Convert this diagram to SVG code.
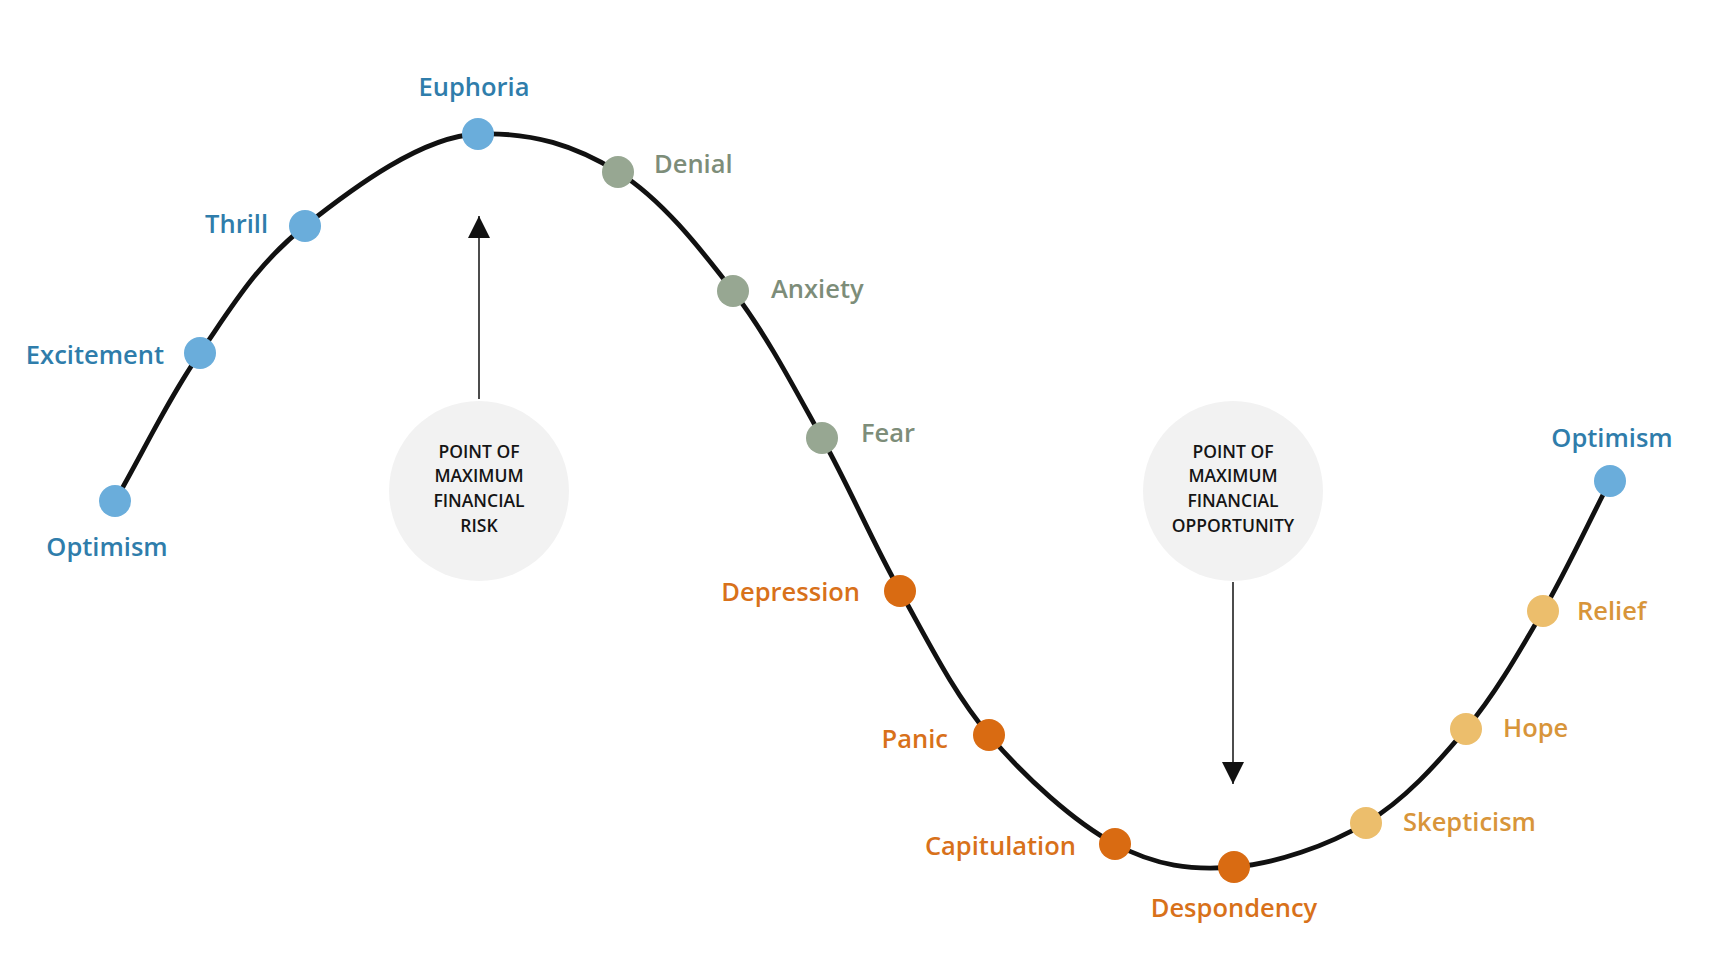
<svg xmlns="http://www.w3.org/2000/svg" width="1716" height="962" viewBox="0 0 1716 962">
<style>
.lbl{font-family:"Open Sans","Liberation Sans",sans-serif;font-weight:600;font-size:25.5px}
.blue{fill:#2f7dab}
.grey{fill:#7d8d79}
.orange{fill:#d8711a}
.yellow{fill:#d8953a}
.dblue{fill:#6aaddb}
.dgrey{fill:#97a792}
.dorange{fill:#d96b12}
.dyellow{fill:#ecbe6c}
.bubble{fill:#f2f2f2}
.btxt{font-family:"Open Sans","Liberation Sans",sans-serif;font-weight:600;font-size:17.5px;fill:#151515;text-anchor:middle}
.conn{stroke:#111;stroke-width:1.5;fill:none}
</style>
<defs>
<marker id="ah" viewBox="0 0 10 10" refX="10" refY="5" markerWidth="22" markerHeight="22" markerUnits="userSpaceOnUse" orient="auto">
<path d="M0,0 L10,5 L0,10 z" fill="#111"/>
</marker>
</defs>
<rect width="1716" height="962" fill="#ffffff"/>
<g id="curve">
<path d="M115,501 C143.3,451.7 168.3,398.8 200,353 C231.7,307.2 256,265 305,226 C354,187 423,136 478,134 C533,132 575.5,145.8 618,172 C660.5,198.2 699,246.7 733,291 C767,335.3 794.2,388 822,438 C849.8,488 872.2,541.5 900,591 C927.8,640.5 953.2,692.8 989,735 C1024.8,777.2 1074.2,822 1115,844 C1155.8,866 1192.2,870.5 1234,867 C1275.8,863.5 1327.3,846 1366,823 C1404.7,800 1436.5,764.3 1466,729 C1495.5,693.7 1519,652.3 1543,611 C1567,569.7 1587.7,524.3 1610,481" fill="none" stroke="#111" stroke-width="4.8"/>
</g>
<g id="risk">
<circle class="bubble" cx="479" cy="491" r="90"/>
<text class="btxt" x="479" y="458">POINT OF</text>
<text class="btxt" x="479" y="482">MAXIMUM</text>
<text class="btxt" x="479" y="507">FINANCIAL</text>
<text class="btxt" x="479" y="532">RISK</text>
</g>
<g id="opportunity">
<circle class="bubble" cx="1233" cy="491" r="90"/>
<text class="btxt" x="1233" y="458">POINT OF</text>
<text class="btxt" x="1233" y="482">MAXIMUM</text>
<text class="btxt" x="1233" y="507">FINANCIAL</text>
<text class="btxt" x="1233" y="532">OPPORTUNITY</text>
</g>
<g id="connectors">
<line class="conn" x1="479" y1="399" x2="479" y2="216" marker-end="url(#ah)"/>
<line class="conn" x1="1233" y1="582" x2="1233" y2="784" marker-end="url(#ah)"/>
</g>
<g id="optimism-start"><circle class="dblue" cx="115" cy="501" r="16"/><text class="lbl blue" x="107" y="556" text-anchor="middle">Optimism</text></g>
<g id="excitement"><circle class="dblue" cx="200" cy="353" r="16"/><text class="lbl blue" x="164" y="364" text-anchor="end">Excitement</text></g>
<g id="thrill"><circle class="dblue" cx="305" cy="226" r="16"/><text class="lbl blue" x="268" y="233" text-anchor="end">Thrill</text></g>
<g id="euphoria"><circle class="dblue" cx="478" cy="134" r="16"/><text class="lbl blue" x="474" y="96" text-anchor="middle">Euphoria</text></g>
<g id="denial"><circle class="dgrey" cx="618" cy="172" r="16"/><text class="lbl grey" x="654" y="173">Denial</text></g>
<g id="anxiety"><circle class="dgrey" cx="733" cy="291" r="16"/><text class="lbl grey" x="771" y="298">Anxiety</text></g>
<g id="fear"><circle class="dgrey" cx="822" cy="438" r="16"/><text class="lbl grey" x="861" y="442">Fear</text></g>
<g id="depression"><circle class="dorange" cx="900" cy="591" r="16"/><text class="lbl orange" x="860" y="601" text-anchor="end">Depression</text></g>
<g id="panic"><circle class="dorange" cx="989" cy="735" r="16"/><text class="lbl orange" x="948" y="748" text-anchor="end">Panic</text></g>
<g id="capitulation"><circle class="dorange" cx="1115" cy="844" r="16"/><text class="lbl orange" x="1076" y="855" text-anchor="end">Capitulation</text></g>
<g id="despondency"><circle class="dorange" cx="1234" cy="867" r="16"/><text class="lbl orange" x="1234" y="917" text-anchor="middle">Despondency</text></g>
<g id="skepticism"><circle class="dyellow" cx="1366" cy="823" r="16"/><text class="lbl yellow" x="1403" y="831">Skepticism</text></g>
<g id="hope"><circle class="dyellow" cx="1466" cy="729" r="16"/><text class="lbl yellow" x="1503" y="737">Hope</text></g>
<g id="relief"><circle class="dyellow" cx="1543" cy="611" r="16"/><text class="lbl yellow" x="1577" y="620">Relief</text></g>
<g id="optimism-end"><circle class="dblue" cx="1610" cy="481" r="16"/><text class="lbl blue" x="1612" y="447" text-anchor="middle">Optimism</text></g>
</svg>
